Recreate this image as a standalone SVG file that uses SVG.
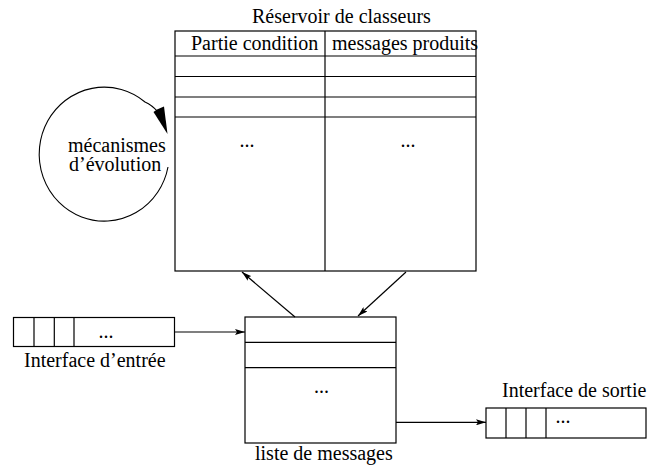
<svg xmlns="http://www.w3.org/2000/svg" width="647" height="467" viewBox="0 0 647 467">
<defs>
<style>
.b{fill:#fff;stroke:#000;stroke-width:1.2}
.l{fill:none;stroke:#000;stroke-width:1.2}
.c{fill:none;stroke:#000;stroke-width:1.1}
text{font-family:"Liberation Serif","Times New Roman",serif;font-size:20px;fill:#000}
.m{text-anchor:middle}
</style>
<marker id="ah" viewBox="0 0 10 6" refX="10" refY="3" markerWidth="10" markerHeight="6" markerUnits="userSpaceOnUse" orient="auto">
<path d="M0,0 L10,3 L0,6 L2,3 Z" fill="#000"/>
</marker>
</defs>
<rect width="647" height="467" fill="#fff"/>
<g id="reservoir">
<text x="252" y="23">Réservoir de classeurs</text>
<rect class="b" x="175" y="31" width="301" height="240"/>
<line class="l" x1="325" y1="31" x2="325" y2="271"/>
<line class="l" x1="175" y1="56" x2="476" y2="56"/>
<line class="l" x1="175" y1="76.5" x2="476" y2="76.5"/>
<line class="l" x1="175" y1="97" x2="476" y2="97"/>
<line class="l" x1="175" y1="117" x2="476" y2="117"/>
<text x="191" y="50">Partie condition</text>
<text x="332" y="50">messages produits</text>
<text class="m" x="247" y="147">...</text>
<text class="m" x="408" y="147">...</text>
</g>
<g id="evolution">
<path class="c" d="M168,167 A65 67 0 1 1 145,102 Q152,105 158,112"/>
<polygon points="167.5,134 153.5,112 157,109.5 164,106.5" fill="#000"/>
<text x="68" y="152">mécanismes</text>
<text x="69" y="171">d’évolution</text>
</g>
<g id="entree">
<rect class="b" x="13.5" y="317.5" width="161" height="29"/>
<line class="l" x1="34" y1="317.5" x2="34" y2="346.5"/>
<line class="l" x1="54.3" y1="317.5" x2="54.3" y2="346.5"/>
<line class="l" x1="74" y1="317.5" x2="74" y2="346.5"/>
<text class="m" x="106" y="338">...</text>
<text x="24" y="367">Interface d’entrée</text>
</g>
<g id="liste">
<rect class="b" x="245" y="317" width="151" height="126"/>
<line class="l" x1="245" y1="342.3" x2="396" y2="342.3"/>
<line class="l" x1="245" y1="367.7" x2="396" y2="367.7"/>
<text class="m" x="321.5" y="393">...</text>
<text x="255" y="460">liste de messages</text>
</g>
<g id="sortie">
<text x="502" y="397">Interface de sortie</text>
<rect class="b" x="486" y="408" width="160" height="30"/>
<line class="l" x1="506" y1="408" x2="506" y2="438"/>
<line class="l" x1="526" y1="408" x2="526" y2="438"/>
<line class="l" x1="546" y1="408" x2="546" y2="438"/>
<text class="m" x="563" y="423">...</text>
</g>
<g id="connectors">
<line class="l" x1="295" y1="317" x2="242" y2="272" marker-end="url(#ah)"/>
<line class="l" x1="406" y1="272" x2="358" y2="316" marker-end="url(#ah)"/>
<line class="l" x1="174.5" y1="332" x2="245" y2="332" marker-end="url(#ah)"/>
<line class="l" x1="396" y1="422.3" x2="486" y2="422.3" marker-end="url(#ah)"/>
</g>
</svg>
